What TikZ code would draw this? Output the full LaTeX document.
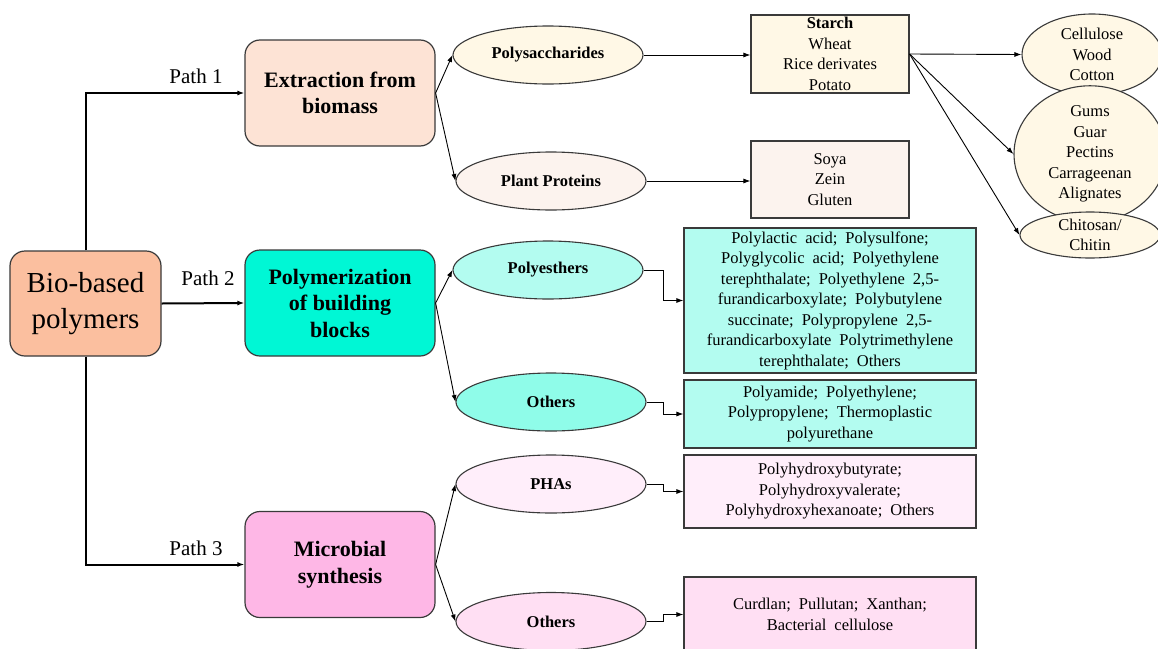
\documentclass[tikz,border=0pt]{standalone}
\usepackage{fontspec}
\setmainfont{Liberation Serif}
\usetikzlibrary{shapes.geometric,arrows.meta}
\newcommand\mywidesp{\spaceskip=8pt\relax}
\definecolor{bordc}{HTML}{3A3A3A}
\definecolor{cBio}{HTML}{FBBF9F}
\definecolor{cExt}{HTML}{FDE3D5}
\definecolor{cPol}{HTML}{00F7D5}
\definecolor{cMic}{HTML}{FEB7E6}
\definecolor{cCream}{HTML}{FFF8E6}
\definecolor{cProt}{HTML}{FCF3EE}
\definecolor{cCyanL}{HTML}{B3FCF0}
\definecolor{cCyanM}{HTML}{8FFCE9}
\definecolor{cPinkL}{HTML}{FFEEFA}
\definecolor{cPinkM}{HTML}{FFDFF3}
\tikzset{
  mainbox/.style={draw=bordc, line width=1.2pt, rounded corners=15pt, minimum width=190pt, minimum height=106pt, inner sep=2pt, align=center, font=\fontsize{22}{26.5}\selectfont\bfseries},
  ell/.style={draw=bordc, line width=1.1pt, ellipse, minimum width=190pt, minimum height=58pt, inner sep=0pt, font=\fontsize{16.5}{20}\selectfont\bfseries},
  rell/.style={draw=bordc, line width=1.1pt, ellipse, inner sep=0pt, align=center, font=\fontsize{16.5}{20.5}\selectfont, fill=cCream},
  lbox/.style={draw=bordc, line width=1.1pt, rectangle, inner sep=2pt, align=center, font=\fontsize{16.5}{20.5}\selectfont},
  wide/.style={font=\fontsize{16.5}{20.5}\selectfont\mywidesp},
  arr/.style={-{Latex[length=7pt,width=5pt]}, line width=0.9pt, black},
  patharr/.style={-{Latex[length=7pt,width=5pt]}, line width=2pt, black},
  pathlbl/.style={font=\fontsize{21}{24}\selectfont, inner sep=0pt}
}
\begin{document}
\begin{tikzpicture}[x=1pt,y=-1pt]
\useasboundingbox (0,0) rectangle (1158,648);
\clip (0,0) rectangle (1158,648);
\fill[white] (0,0) rectangle (1158,648);

% main boxes
\node[mainbox, fill=cBio, minimum width=151pt, minimum height=105pt, font=\fontsize{29}{36}\selectfont] (bio) at (85.5,303.5) {Bio-based\\polymers};
\node[mainbox, fill=cExt] (ext) at (340,93) {Extraction from\\biomass};
\node[mainbox, fill=cPol] (pol) at (340,303) {Polymerization\\of building\\blocks};
\node[mainbox, fill=cMic] (mic) at (340,564.5) {Microbial\\synthesis};

% path connectors
\draw[patharr] (bio.north) |- (ext.west);
\draw[patharr] (bio.east) -- (pol.west);
\draw[patharr] (bio.south) |- (mic.west);
\node[pathlbl] (p1) at (196,76) {Path 1};
\node[pathlbl] (p2) at (208,278) {Path 2};
\node[pathlbl] (p3) at (196,548) {Path 3};

% ellipses
\node[ell, fill=cCream] (polys) at (548,55) {Polysaccharides};
\node[ell, fill=cProt] (prot) at (551,181) {Plant Proteins};
\node[ell, fill=cCyanL] (poly) at (548,270) {Polyesthers};
\node[ell, fill=cCyanM] (oth1) at (551,402) {Others};
\node[ell, fill=cPinkL] (pha) at (551,484) {PHAs};
\node[ell, fill=cPinkM] (oth2) at (551,621.5) {Others};

\draw[arr] (ext.east) -- (polys.west);
\draw[arr] (ext.east) -- (prot.west);
\draw[arr] (pol.east) -- (poly.west);
\draw[arr] (pol.east) -- (oth1.west);
\draw[arr] (mic.east) -- (pha.west);
\draw[arr] (mic.east) -- (oth2.west);

% boxes
\node[lbox, fill=cCream, minimum width=158pt, minimum height=78pt] (starch) at (830,54) {\textbf{Starch}\\Wheat\\Rice derivates\\Potato};
\node[lbox, fill=cProt, minimum width=158pt, minimum height=77pt] (soya) at (830,179.5) {Soya\\Zein\\Gluten};
\node[lbox, wide, fill=cCyanL, minimum width=292pt, minimum height=145pt] (plbox) at (830,300.5) {Polylactic acid; Polysulfone;\\Polyglycolic acid; Polyethylene\\terephthalate; Polyethylene 2,5-\\furandicarboxylate; Polybutylene\\succinate; Polypropylene 2,5-\\furandicarboxylate Polytrimethylene\\terephthalate; Others};
\node[lbox, wide, fill=cCyanL, minimum width=292pt, minimum height=68pt] (pabox) at (830,414) {Polyamide; Polyethylene;\\Polypropylene; Thermoplastic\\polyurethane};
\node[lbox, wide, fill=cPinkL, minimum width=292pt, minimum height=73pt] (phbox) at (830,491.5) {Polyhydroxybutyrate;\\Polyhydroxyvalerate;\\Polyhydroxyhexanoate; Others};
\node[lbox, wide, fill=cPinkM, minimum width=292pt, minimum height=75pt] (cubox) at (830,614.5) {Curdlan; Pullutan; Xanthan;\\Bacterial cellulose};

\draw[arr] (polys.east) -- (polys.east -| starch.west);
\draw[arr] (prot.east) -- (prot.east -| soya.west);
\draw[arr] (poly.east) -- ++(20,0) |- (plbox.west);
\draw[arr] (oth1.east) -- ++(17,0) |- (pabox.west);
\draw[arr] (pha.east) -- ++(17,0) |- (phbox.west);
\draw[arr] (oth2.east) -- ++(17,0) |- (cubox.west);

% right ellipses
\node[rell, minimum width=140pt, minimum height=81pt] (cell) at (1092,54.5) {Cellulose\\Wood\\Cotton};
\node[rell, minimum width=152pt, minimum height=116pt] (gums) at (1090,154) {Gums\\Guar\\Pectins\\Carrageenan\\Alignates};
\node[rell, minimum width=140pt, minimum height=46pt] (chit) at (1090,235) {Chitosan/\\Chitin};

\draw[arr] (starch.east) -- (cell.west);
\draw[arr] (starch.east) -- (gums.west);
\draw[arr] (starch.east) -- (chit.west);
\end{tikzpicture}
\end{document}
